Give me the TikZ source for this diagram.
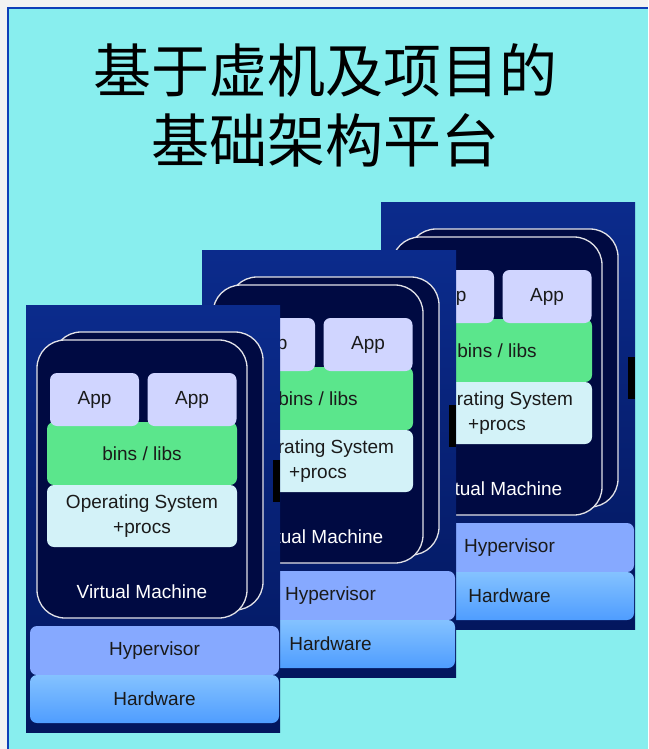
\documentclass[tikz,border=0pt]{standalone}
\usepackage{fontspec}
\setmainfont{Liberation Sans}
\newfontfamily\cjk{Noto Sans CJK SC}
\definecolor{bggray}{HTML}{F2F2F2}
\definecolor{cyanbg}{HTML}{88EEEE}
\definecolor{frameblue}{HTML}{0E3FB8}
\definecolor{navytop}{HTML}{0B2B8C}
\definecolor{navybot}{HTML}{03175E}
\definecolor{vmfill}{HTML}{000A42}
\definecolor{vmline}{HTML}{E2E2E8}
\definecolor{appfill}{HTML}{D0D5FF}
\definecolor{binfill}{HTML}{5BE68C}
\definecolor{osfill}{HTML}{D3F2F8}
\definecolor{hypfill}{HTML}{86A9FF}
\definecolor{hwtop}{HTML}{84C2FF}
\definecolor{hwbot}{HTML}{4F9DFF}
\definecolor{txt}{HTML}{1A1A1A}
\tikzset{
  lbl/.style={font=\fontsize{19}{24}\selectfont, text=txt, inner sep=0pt, outer sep=0pt},
  layerbox/.style={lbl, rounded corners=7pt, minimum width=190pt},
  appbox/.style={layerbox, fill=appfill, minimum width=89pt, minimum height=53pt},
  binbox/.style={layerbox, fill=binfill, minimum height=63pt},
  osbox/.style={layerbox, fill=osfill, minimum height=62pt, align=center},
  vmbox/.style={draw=vmline, line width=1.3pt, fill=vmfill, rounded corners=28pt,
    minimum width=210pt, minimum height=278pt, inner sep=0pt},
  hypbox/.style={layerbox, fill=hypfill, minimum width=249pt, minimum height=49pt},
  hwbox/.style={layerbox, top color=hwtop, bottom color=hwbot, minimum width=249pt, minimum height=48pt},
}
\newcommand\vmstack[2]{%
\begin{scope}[shift={#2}]
  \fill[top color=navytop, bottom color=navybot] (0,0) rectangle (254,427);
  \node[vmbox] (#1vmback) at (132,166) {};
  \node[vmbox] (#1vm) at (116,174) {};
  \node[binbox] (#1bins) at (116,148.5) {bins / libs};
  \node[appbox] (#1appa) at (68.5,94.5) {App};
  \node[appbox] (#1appb) at (166,94.5) {App};
  \node[osbox] (#1os) at (116,211) {Operating System\\[1pt]+procs};
  \node[lbl, text=white] (#1vmlabel) at (116,287) {Virtual Machine};
  \node[hypbox] (#1hyp) at (128.5,345.5) {Hypervisor};
  \node[hwbox] (#1hw) at (128.5,394) {Hardware};
  \fill[black] (247,155) rectangle (254,197);
\end{scope}}
\begin{document}
\begin{tikzpicture}[x=1pt, y=-1pt]
  \useasboundingbox (0,0) rectangle (648,749);
  \fill[bggray] (0,0) rectangle (648,749);
  \fill[cyanbg] (7.5,7.5) rectangle (648,749);
  \draw[frameblue, line width=2.2pt] (8,749) -- (8,8) -- (648,8);
  \node[font=\cjk\fontsize{58}{70}\selectfont, align=center, inner sep=0pt] (title) at (325,105)
    {基于虚机及项目的\\基础架构平台};
  \vmstack{c}{(381,202)}
  \vmstack{b}{(202,250)}
  \vmstack{a}{(26,305)}
\end{tikzpicture}
\end{document}
